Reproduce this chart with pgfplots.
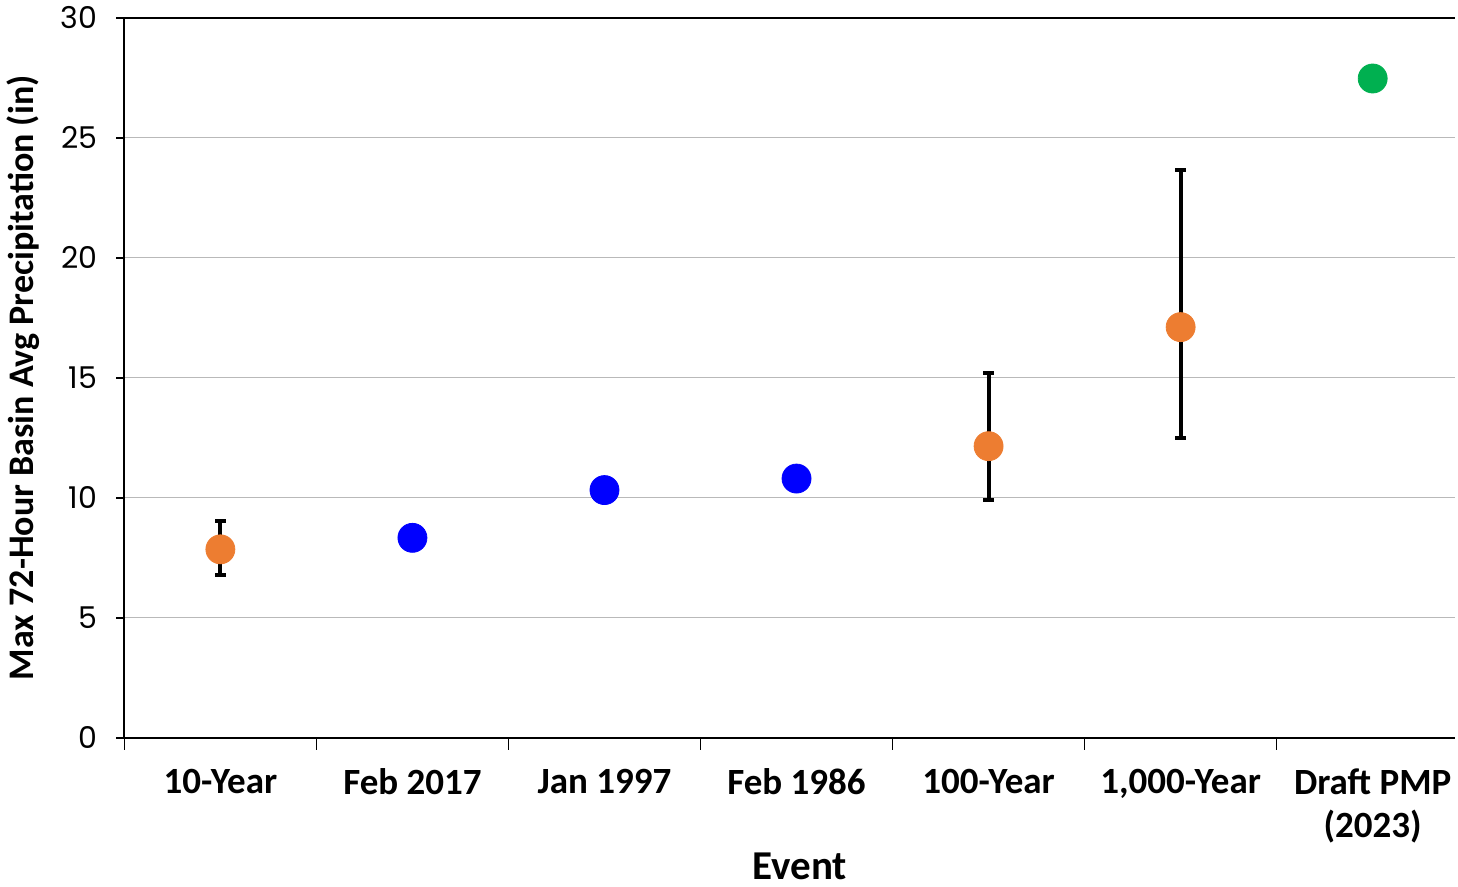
\documentclass[border=0pt]{standalone}
\usepackage{pgfplots}
\pgfplotsset{compat=1.18}
\usepackage{fontspec}
\setmainfont{Carlito}
\newfontfamily\tickfont{Poppins}
\definecolor{cOrange}{HTML}{ED7D31}
\definecolor{cBlue}{HTML}{0000FF}
\definecolor{cGreen}{HTML}{00B050}
\begin{document}
\begin{tikzpicture}
\begin{axis}[
  scale only axis,
  width=665.5pt, height=360pt,
  xmin=-0.5, xmax=6.43,
  ymin=0, ymax=30,
  axis x line*=bottom, axis y line*=left,
  axis line style={line width=1pt, black},
  /pgf/number format/assume math mode=true,
  xtick={0,1,2,3,4,5,6},
  xticklabels={10-Year,Feb 2017,Jan 1997,Feb 1986,100-Year,{1,000-Year},{Draft PMP\\(2023)}},
  x tick label style={font=\fontsize{18.5}{21.5}\selectfont\bfseries, align=center, yshift=-8pt},
  major x tick style={draw=none},
  minor xtick={-0.5,0.5,1.5,2.5,3.5,4.5,5.5},
  minor x tick style={black, line width=0.8pt},
  minor tick length=6pt,
  tick align=outside,
  ytick={0,5,10,15,20,25},
  extra y ticks={30},
  extra y tick style={grid style={black, line width=1pt}},
  y tick label style={font=\tickfont\fontsize{15}{18}\selectfont, xshift=-6pt},
  major y tick style={black, line width=0.8pt},
  major tick length=4pt,
  ymajorgrids,
  grid style={gray!55, line width=0.6pt},
  ylabel={\bfseries Max 72-Hour Basin Avg Precipitation (in)},
  ylabel style={font=\fontsize{18}{21}\selectfont, yshift=-4pt},
  xlabel={\bfseries Event},
  xlabel style={font=\fontsize{20.5}{23}\selectfont, yshift=2pt, xshift=5pt},
  clip=false,
]
\addplot[draw=none, mark=none, forget plot,
  error bars/.cd, y dir=both, y explicit,
  error bar style={line width=2pt, black},
  error mark options={rotate=90, mark size=2.6pt, line width=2pt, black}]
  table[x=x, y=y, y error plus=ep, y error minus=em] {
  x y ep em
  0 7.85 1.20 1.05
  4 12.15 3.03 2.26
  5 17.11 6.53 4.64
  };
\addplot[only marks, mark=*, mark size=7.25pt, color=cOrange]
  coordinates {(0,7.85) (4,12.15) (5,17.11)};
\addplot[only marks, mark=*, mark size=7.25pt, color=cBlue]
  coordinates {(1,8.33) (2,10.32) (3,10.80)};
\addplot[only marks, mark=*, mark size=7.25pt, color=cGreen]
  coordinates {(6,27.47)};
\end{axis}
\end{tikzpicture}
\end{document}
